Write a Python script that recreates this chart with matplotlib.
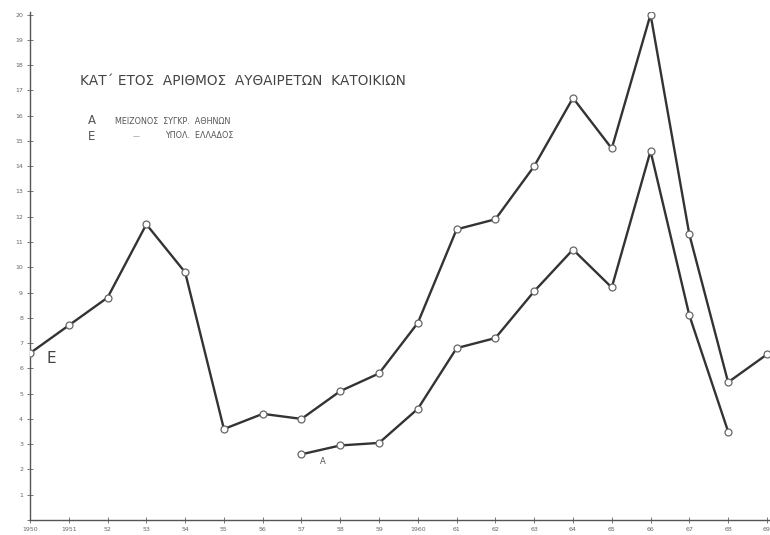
import matplotlib
matplotlib.use("Agg")
import matplotlib.pyplot as plt

years = list(range(1950, 1970))
greece = [6.6, 7.7, 8.8, 11.7, 9.8, 3.6, 4.2, 4.0, 5.1, 5.8, 7.8, 11.5, 11.9, 14.0,
          16.7, 14.7, 20.0, 11.3, 5.45, 6.55]
athens_years = list(range(1957, 1969))
athens = [2.6, 2.95, 3.05, 4.4, 6.8, 7.2, 9.05, 10.7, 9.2, 14.6, 8.1, 3.5]
x_labels = ["1950", "1951", "52", "53", "54", "55", "56", "57", "58", "59",
            "1960", "61", "62", "63", "64", "65", "66", "67", "68", "69"]
y_ticks = list(range(0, 21))

title = "ΚΑΤ΄ ΕΤΟΣ  ΑΡΙΘΜΟΣ  ΑΥΘΑΙΡΕΤΩΝ  ΚΑΤΟΙΚΙΩΝ"
leg_a = "ΜΕΙΖΟΝΟΣ  ΣΥΓΚΡ.  ΑΘΗΝΩΝ"
leg_e = "ΥΠΟΛ.  ΕΛΛΑΔΟΣ"

fig = plt.figure(figsize=(7.7, 5.35), dpi=100)
ax = fig.add_axes([30/770, 15/535, 740/770, 508/535])
ax.set_xlim(1950, 1969.08)
ax.set_ylim(0, 20.1)

lc = "#333333"
ax.plot(years, greece, color=lc, lw=1.7, marker="o", ms=5,
        mfc="white", mec="#666666", mew=0.9, zorder=3)
ax.plot(athens_years, athens, color=lc, lw=1.7, marker="o", ms=5,
        mfc="white", mec="#666666", mew=0.9, zorder=3)

for s in ["top", "right"]:
    ax.spines[s].set_visible(False)
for s in ["left", "bottom"]:
    ax.spines[s].set_color("#555555")
    ax.spines[s].set_linewidth(1.0)

ax.set_xticks(years)
ax.set_xticklabels(x_labels)
ax.set_yticks(y_ticks)
ax.set_yticklabels(["" if v == 0 else str(v) for v in y_ticks])
ax.tick_params(axis="both", direction="inout", length=4, width=0.7,
               colors="#777777", labelsize=4.5, labelcolor="#666666", pad=3)

ax.text(1950.55, 6.4, "E", fontsize=11, color="#444444", ha="center", va="center")
ax.text(1957.55, 2.3, "Α", fontsize=6, color="#555555", ha="center", va="center")

fig.text(80/770, 1 - 81/535, title, fontsize=9.8, color="#444444",
         ha="left", va="center")
fig.text(92/770, 1 - 121/535, "Α", fontsize=8.5, color="#555555", ha="center", va="center")
fig.text(92/770, 1 - 137/535, "Ε", fontsize=8.5, color="#555555", ha="center", va="center")
fig.text(115/770, 1 - 122/535, leg_a, fontsize=5.8, color="#555555", ha="left", va="center")
fig.text(133/770, 1 - 136/535, "—", fontsize=5, color="#777777", ha="left", va="center")
fig.text(165/770, 1 - 136/535, leg_e, fontsize=5.8, color="#555555", ha="left", va="center")

fig.savefig("out.png", dpi=100, facecolor="white")
